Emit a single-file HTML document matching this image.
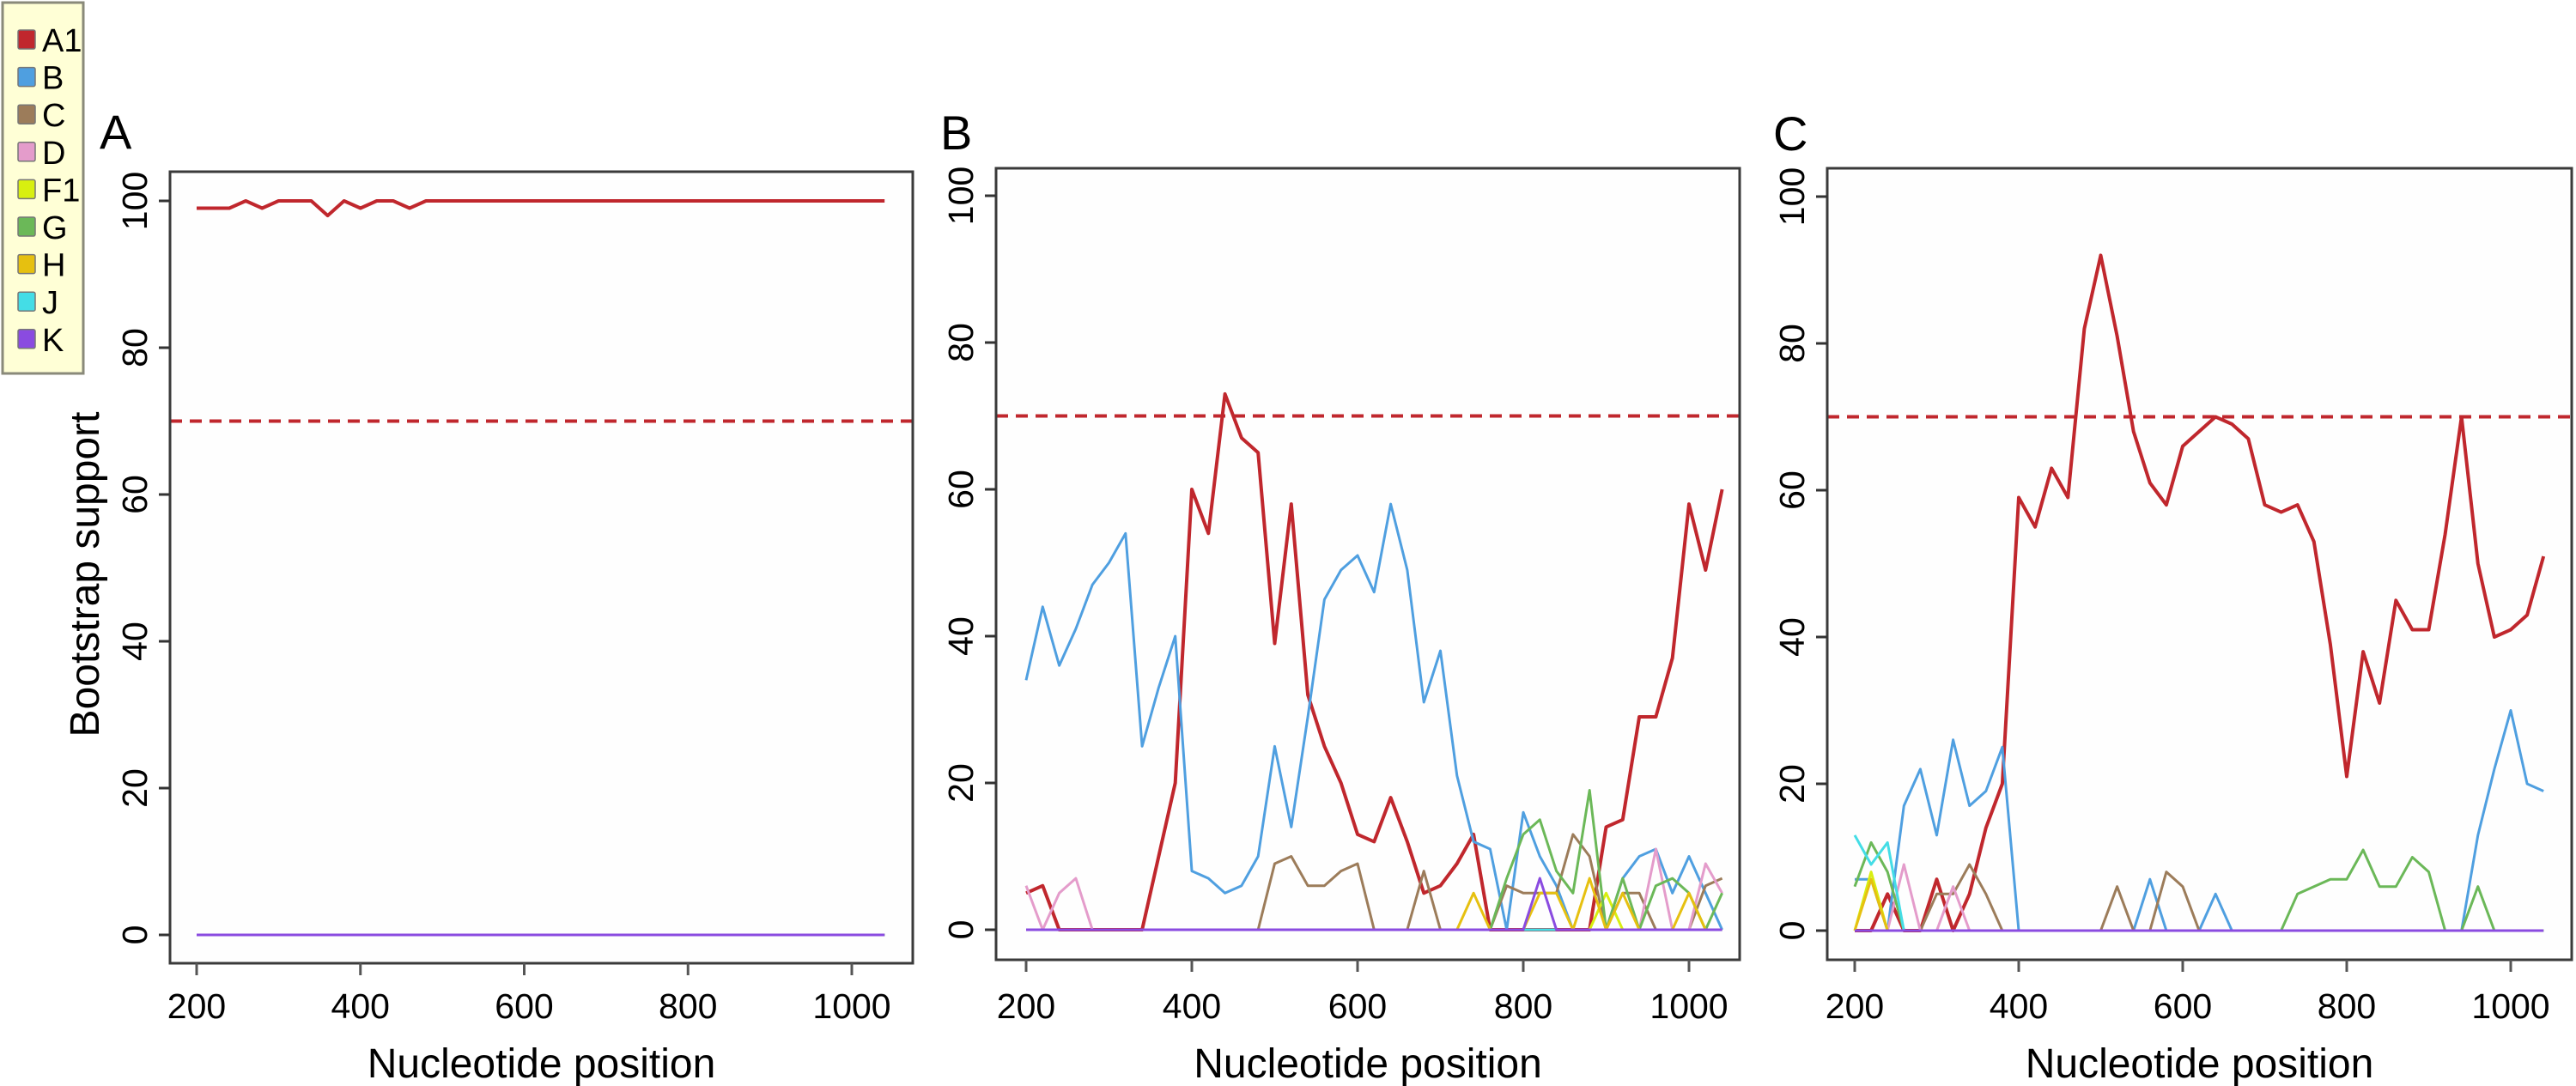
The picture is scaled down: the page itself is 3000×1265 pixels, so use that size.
<!DOCTYPE html>
<html><head><meta charset="utf-8"><style>
html,body{margin:0;padding:0;background:#fff;}
svg{display:block;font-family:"Liberation Sans",Arial,sans-serif;}
</style></head><body>
<svg id="chart" width="3000" height="1265" viewBox="0 0 3000 1265" xmlns="http://www.w3.org/2000/svg">
<rect width="3000" height="1265" fill="#fff"/>
<g id="legend"></g>
</svg>
<script>
const positions = [];
for (let p = 200; p <= 1040; p += 20) positions.push(p);
const xTicks = [200, 400, 600, 800, 1000];
const yTicks = [0, 20, 40, 60, 80, 100];
const threshold = 70;
const subtypes = ["A1","B","C","D","F1","G","H","J","K"];
const colors = ["#c0272d","#4f9fe0","#9c7c5a","#e49ccb","#d8ef10","#6bb858","#e6c010","#44dde6","#8a4be0"];

const Z = new Array(43).fill(0);
function z(){return Z.slice();}
// Panel A
const aA1 = [99,99,99,100,99,100,100,100,98,100,99,100,100,99,100,100,100,100,100,100,100,100,100,100,100,100,100,100,100,100,100,100,100,100,100,100,100,100,100,100,100,100,100];
// Panel B
const bA1 = [5,6,0,0,0,0,0,0,10,20,60,54,73,67,65,39,58,32,25,20,13,12,18,12,5,6,9,13,0,0,0,0,0,0,0,14,15,29,29,37,58,49,60];
const bB  = [34,44,36,41,47,50,54,25,33,40,8,7,5,6,10,25,14,29,45,49,51,46,58,49,31,38,21,12,11,0,16,10,6,0,0,0,7,10,11,5,10,5,0];
const bC  = [0,0,0,0,0,0,0,0,0,0,0,0,0,0,0,9,10,6,6,8,9,0,0,0,8,0,0,0,0,6,5,5,5,13,10,0,5,5,0,0,0,6,7];
const bD  = [6,0,5,7,0,0,0,0,0,0,0,0,0,0,0,0,0,0,0,0,0,0,0,0,0,0,0,0,0,0,0,0,0,0,0,0,0,0,11,0,0,9,5];
const bF1 = [0,0,0,0,0,0,0,0,0,0,0,0,0,0,0,0,0,0,0,0,0,0,0,0,0,0,0,0,0,0,0,0,0,0,0,5,0,0,0,0,0,0,0];
const bG  = [0,0,0,0,0,0,0,0,0,0,0,0,0,0,0,0,0,0,0,0,0,0,0,0,0,0,0,0,0,7,13,15,8,5,19,0,7,0,6,7,5,0,5];
const bH  = [0,0,0,0,0,0,0,0,0,0,0,0,0,0,0,0,0,0,0,0,0,0,0,0,0,0,0,5,0,0,0,5,5,0,7,0,5,0,0,0,5,0,0];
const bJ  = [0,0,0,0,0,0,0,0,0,0,0,0,0,0,0,0,0,0,0,0,0,0,0,0,0,0,0,0,0,0,0,0,0,0,0,0,0,0,0,0,0,0,0];
const bK  = [0,0,0,0,0,0,0,0,0,0,0,0,0,0,0,0,0,0,0,0,0,0,0,0,0,0,0,0,0,0,0,7,0,0,0,0,0,0,0,0,0,0,0];
// Panel C
const cA1 = [0,0,5,0,0,7,0,5,14,20,59,55,63,59,82,92,81,68,61,58,66,68,70,69,67,58,57,58,53,39,21,38,31,45,41,41,54,70,50,40,41,43,51];
const cB  = [7,7,0,17,22,13,26,17,19,25,0,0,0,0,0,0,0,0,7,0,0,0,5,0,0,0,0,0,0,0,0,0,0,0,0,0,0,0,13,22,30,20,19];
const cC  = [0,0,0,0,0,5,5,9,5,0,0,0,0,0,0,0,6,0,0,8,6,0,0,0,0,0,0,0,0,0,0,0,0,0,0,0,0,0,0,0,0,0,0];
const cD  = [0,0,0,9,0,0,6,0,0,0,0,0,0,0,0,0,0,0,0,0,0,0,0,0,0,0,0,0,0,0,0,0,0,0,0,0,0,0,0,0,0,0,0];
const cF1 = [0,8,0,0,0,0,0,0,0,0,0,0,0,0,0,0,0,0,0,0,0,0,0,0,0,0,0,0,0,0,0,0,0,0,0,0,0,0,0,0,0,0,0];
const cG  = [6,12,8,0,0,0,0,0,0,0,0,0,0,0,0,0,0,0,0,0,0,0,0,0,0,0,0,5,6,7,7,11,6,6,10,8,0,0,6,0,0,0,0];
const cH  = [0,7,0,0,0,0,0,0,0,0,0,0,0,0,0,0,0,0,0,0,0,0,0,0,0,0,0,0,0,0,0,0,0,0,0,0,0,0,0,0,0,0,0];
const cJ  = [13,9,12,0,0,0,0,0,0,0,0,0,0,0,0,0,0,0,0,0,0,0,0,0,0,0,0,0,0,0,0,0,0,0,0,0,0,0,0,0,0,0,0];
const cK  = [0,0,0,0,0,0,0,0,0,0,0,0,0,0,0,0,0,0,0,0,0,0,0,0,0,0,0,0,0,0,0,0,0,0,0,0,0,0,0,0,0,0,0];

const panels = [
 {id:"a",label:"A",lx:116,ly:173,box:[198,200,1063,1122],x200:229,x1000:992,y0:1089,y100:234,yTitle:true,
  series:[aA1,z(),z(),z(),z(),z(),z(),z(),z()]},
 {id:"b",label:"B",lx:1095,ly:174,box:[1160,196,2026,1118],x200:1195,x1000:1967,y0:1083,y100:228,yTitle:false,
  series:[bA1,bB,bC,bD,bF1,bG,bH,bJ,bK]},
 {id:"c",label:"C",lx:2065,ly:175,box:[2128,196,2995,1118],x200:2160,x1000:2924,y0:1084,y100:229,yTitle:false,
  series:[cA1,cB,cC,cD,cF1,cG,cH,cJ,cK]}
];

const NS = "http://www.w3.org/2000/svg";
const svg = document.getElementById("chart");
function mk(tag, attrs, parent, text){
  const e = document.createElementNS(NS, tag);
  for (const k in attrs) e.setAttribute(k, attrs[k]);
  if (text !== undefined) e.textContent = text;
  (parent||svg).appendChild(e);
  return e;
}

panels.forEach(P => {
  const g = mk("g", {});
  
  
  const sx = v => P.x200 + (v - 200) * (P.x1000 - P.x200) / 800;
  const sy = v => P.y0 - v * (P.y0 - P.y100) / 100;
  const [L,T,R,B] = P.box;
  const bg = mk("rect", {x:L,y:T,width:R-L,height:B-T,fill:"#fefefe",stroke:"none"}, g);
  
  
  P.series.forEach((vals, si) => {
    const pts = vals.map((v,i) => sx(positions[i]).toFixed(1) + "," + sy(v).toFixed(1)).join(" ");
    const pl = mk("polyline", {points:pts, fill:"none", stroke:colors[si], "stroke-width": si===0?4:3, "stroke-linejoin":"round"}, g);
    
    
  });
  const th = mk("line", {x1:L,x2:R,y1:sy(threshold),y2:sy(threshold),stroke:"#c0272d","stroke-width":4,"stroke-dasharray":"14 9"}, g);
  
  
  const bx = mk("rect", {x:L,y:T,width:R-L,height:B-T,fill:"none",stroke:"#3a3a3a","stroke-width":3}, g);
  
  
  xTicks.forEach(t => {
    const tk = mk("line", {x1:sx(t),x2:sx(t),y1:B,y2:B+14,stroke:"#555","stroke-width":3}, g);
    
    
    const tl = mk("text", {x:sx(t),y:1186,"font-size":41,"text-anchor":"middle",fill:"#000"}, g, String(t));
    
    
  });
  yTicks.forEach(t => {
    const tk = mk("line", {x1:L-13,x2:L,y1:sy(t),y2:sy(t),stroke:"#333","stroke-width":3}, g);
    
    
    const bxp = L - 27;
    const tl = mk("text", {x:bxp,y:sy(t),"font-size":41,"text-anchor":"middle",fill:"#000",transform:`rotate(-90 ${bxp} ${sy(t)})`}, g, String(t));
    
    
  });
  const xt = mk("text", {x:(L+R)/2,y:1255,"font-size":48,"text-anchor":"middle",fill:"#000"}, g, "Nucleotide position");
  
  
  if (P.yTitle) {
    const yt = mk("text", {x:115,y:669,"font-size":48,"text-anchor":"middle",fill:"#000",transform:"rotate(-90 115 669)"}, g, "Bootstrap support");
    
    
  }
  const pl = mk("text", {x:P.lx,y:P.ly,"font-size":56,fill:"#000"}, g, P.label);
  
  
});

const lg = document.getElementById("legend");
svg.appendChild(lg);
const lb = mk("rect", {x:3,y:3,width:94,height:432,fill:"#ffffd6",stroke:"#8a8a7a","stroke-width":3}, lg);


subtypes.forEach((s, i) => {
  const cy = 46 + i * 43.6;
  const eg = mk("g", {}, lg);
  
  
  mk("rect", {x:21,y:cy-11,width:20,height:22,rx:2,fill:colors[i],stroke:"#777","stroke-width":1.5}, eg);
  mk("text", {x:49,y:cy+14,"font-size":38,fill:"#000"}, eg, s);
});
</script>
</body></html>
